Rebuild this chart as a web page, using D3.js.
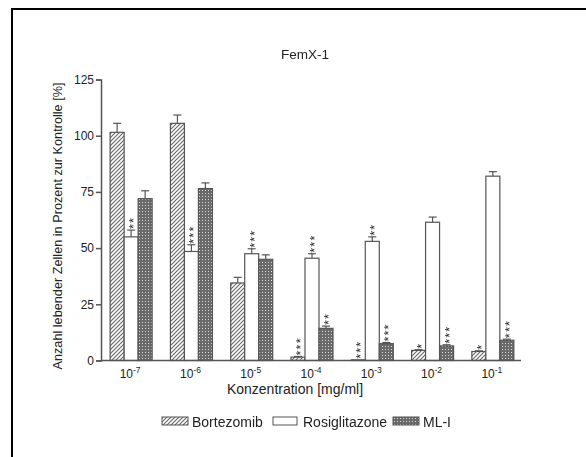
<!DOCTYPE html>
<html><head><meta charset="utf-8">
<script src="https://cdn.jsdelivr.net/npm/d3@7"></script>
<style>
html,body{margin:0;padding:0;background:#fff;}
text{font-family:"Liberation Sans",Arial,Helvetica,sans-serif;fill:#222;}
.stars{opacity:0.99;}
</style></head>
<body>
<svg id="chart" width="586" height="457"></svg>
<script>
const title = "FemX-1";
const categories = ["-7","-6","-5","-4","-3","-2","-1"];
const seriesNames = ["Bortezomib","Rosiglitazone","ML-I"];
const bortezomib = [101.5,105.5,34.5,1.5,0.3,4.5,4];
const bortezomibErr = [4,3.7,2.5,0.3,0,0.3,0.3];
const rosiglitazone = [55,48.5,47.5,45.5,53,61.5,82];
const rosiglitazoneErr = [3,3,2.2,2,2,2.3,2];
const mlI = [72,76.5,45,14.3,7.5,6.5,9];
const mlIErr = [3.5,2.5,2,1,0.5,0.5,0.5];
const bortezomibStars = ["","","","***","***","*","*"];
const rosiglitazoneStars = ["**","***","***","***","**","",""];
const mlIStars = ["","","","**","***","***","***"];
const yTicks = [0,25,50,75,100,125];
const yLabel = "Anzahl lebender Zellen in Prozent zur Kontrolle [%]";
const xLabel = "Konzentration [mg/ml]";

const series = [
  {name:seriesNames[0], vals:bortezomib, err:bortezomibErr, stars:bortezomibStars, fill:"url(#hatch)"},
  {name:seriesNames[1], vals:rosiglitazone, err:rosiglitazoneErr, stars:rosiglitazoneStars, fill:"#fff"},
  {name:seriesNames[2], vals:mlI, err:mlIErr, stars:mlIStars, fill:"url(#dots)"}
];

const svg = d3.select("#chart");
const defs = svg.append("defs");
const hatch = defs.append("pattern").attr("id","hatch").attr("patternUnits","userSpaceOnUse")
  .attr("width",4).attr("height",4);
hatch.append("rect").attr("width",4).attr("height",4).attr("fill","#fff");
hatch.append("path").attr("d","M-1,1 L1,-1 M0,4 L4,0 M3,5 L5,3").attr("stroke","#666").attr("stroke-width",1.1);
const dots = defs.append("pattern").attr("id","dots").attr("patternUnits","userSpaceOnUse")
  .attr("width",3).attr("height",3);
dots.append("rect").attr("width",3).attr("height",3).attr("fill","#6a6a6a");
dots.append("rect").attr("x",1).attr("y",1).attr("width",1).attr("height",1).attr("fill","#d8d8d8");

// frame
svg.append("line").attr("x1",12).attr("x2",586).attr("y1",9).attr("y2",9).attr("stroke","#000").attr("stroke-width",2);
svg.append("line").attr("x1",12).attr("x2",12).attr("y1",8).attr("y2",457).attr("stroke","#000").attr("stroke-width",2);

const x0 = 101, x1 = 523, yTop = 79.5, yBot = 360.5;
const x = d3.scaleBand().domain(categories).range([x0,x1]).padding(0);
const groupW = 42;
const xs = d3.scaleBand().domain(seriesNames).range([(x.bandwidth()-groupW)/2,(x.bandwidth()+groupW)/2]).padding(0);
const y = d3.scaleLinear().domain([0,125]).range([yBot,yTop]);

const axisColor = "#555";
// y axis
const yAxis = svg.append("g").attr("transform",`translate(${x0},0)`)
  .call(d3.axisLeft(y).tickValues(yTicks).tickSize(5).tickPadding(2));
yAxis.select(".domain").attr("stroke",axisColor).attr("stroke-width",1.5);
yAxis.selectAll(".tick line").attr("stroke",axisColor).attr("stroke-width",1.5);
yAxis.selectAll(".tick text").style("font-size","12px").style("font-family","'Liberation Sans',Arial,sans-serif").attr("fill","#222");

// bars
const starFs = 12.5;
const starGroup = svg.append("g").attr("class","stars");
series.forEach(s=>{
  const g = svg.append("g");
  categories.forEach((c,i)=>{
    const bx = x(c)+xs(s.name);
    const v = s.vals[i];
    g.append("rect").attr("x",bx).attr("y",y(v)).attr("width",xs.bandwidth()).attr("height",yBot-y(v))
      .attr("fill",s.fill).attr("stroke",axisColor).attr("stroke-width",1.2);
    const e = s.err[i];
    const cx = bx + xs.bandwidth()/2;
    if(e>0.2){
      g.append("line").attr("x1",cx).attr("x2",cx).attr("y1",y(v)).attr("y2",y(v+e)).attr("stroke",axisColor).attr("stroke-width",1.2);
      g.append("line").attr("x1",cx-4).attr("x2",cx+4).attr("y1",y(v+e)).attr("y2",y(v+e)).attr("stroke",axisColor).attr("stroke-width",1.2);
    }
    const st = s.stars[i];
    if(st){
      const ty = y(v+e) - 1;
      starGroup.append("text")
        .attr("transform",`translate(${cx + 0.56*starFs},${ty}) rotate(-90)`)
        .attr("text-anchor","start").style("font-size",starFs+"px").style("letter-spacing","1.2px")
        .attr("fill","#222").text(st);
    }
  });
});
starGroup.raise();

// x axis
svg.append("line").attr("x1",x0).attr("x2",x1-2).attr("y1",yBot).attr("y2",yBot).attr("stroke",axisColor).attr("stroke-width",1.5);
categories.forEach(c=>{
  const t = svg.append("text").attr("x",x(c)+x.bandwidth()/2-1).attr("y",yBot+17).attr("text-anchor","middle").style("font-size","12px");
  t.append("tspan").text("10");
  t.append("tspan").attr("dy",-5).style("font-size","8.5px").text(c);
});

// labels
svg.append("text").attr("x",295).attr("y",394).attr("text-anchor","middle").style("font-size","14px").text(xLabel);
svg.append("text").attr("transform",`translate(62,${(yTop+yBot)/2+6}) rotate(-90)`).attr("text-anchor","middle").style("font-size","12.7px").text(yLabel);
svg.append("text").attr("x",305).attr("y",59).attr("text-anchor","middle").style("font-size","13.5px").text(title);

// legend
const legendX = [162,273,393];
series.forEach((s,i)=>{
  svg.append("rect").attr("x",legendX[i]).attr("y",417).attr("width",s.name==="Rosiglitazone"?24:26).attr("height",8)
    .attr("fill",s.fill).attr("stroke",axisColor).attr("stroke-width",1);
  svg.append("text").attr("x",legendX[i]+30).attr("y",426.5).style("font-size","14px").text(s.name);
});
</script>
</body></html>
